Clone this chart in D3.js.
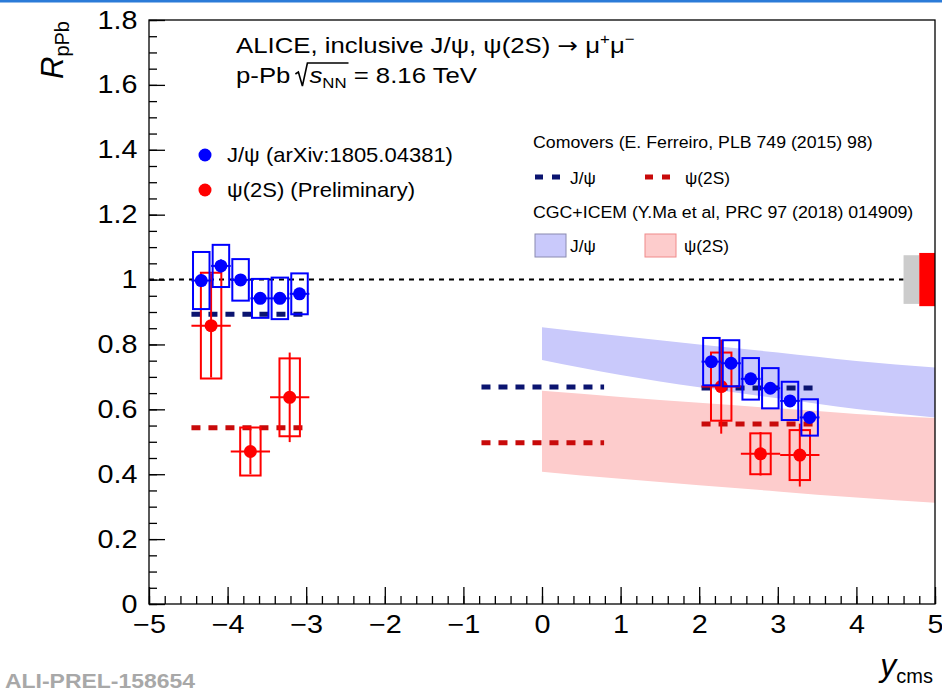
<!DOCTYPE html>
<html>
<head>
<meta charset="utf-8">
<script src="https://cdn.jsdelivr.net/npm/d3@7"></script>
<style>
body { margin: 0; background: #fff; }
text { font-family: "Liberation Sans", Arial, sans-serif; }
</style>
</head>
<body>
<div id="chart"></div>
<script>
// J/psi (arXiv:1805.04381), backward then forward rapidity bins
var jpsiY    = [-4.335, -4.085, -3.835, -3.585, -3.335, -3.085, 2.155, 2.405, 2.655, 2.905, 3.155, 3.405];
var jpsiR    = [0.997, 1.042, 0.999, 0.942, 0.942, 0.956, 0.747, 0.742, 0.694, 0.665, 0.626, 0.575];
var jpsiStat = [0.02, 0.02, 0.015, 0.015, 0.015, 0.015, 0.012, 0.01, 0.01, 0.01, 0.01, 0.01];
var jpsiSys  = [0.088, 0.065, 0.064, 0.06, 0.064, 0.063, 0.073, 0.071, 0.064, 0.062, 0.059, 0.056];

// psi(2S) preliminary
var psiY    = [-4.21, -3.71, -3.21, 2.28, 2.78, 3.28];
var psiR    = [0.858, 0.470, 0.637, 0.670, 0.463, 0.459];
var psiStat = [0.16, 0.07, 0.138, 0.145, 0.067, 0.097];
var psiSys  = [0.163, 0.074, 0.12, 0.105, 0.063, 0.077];

// comovers (Ferreiro), one value per rapidity range
var comoversRanges = [[-4.46, -2.96], [-0.77, 0.79], [2.03, 3.53]];
var comoversJpsi   = [0.893, 0.669, 0.666];
var comoversPsi    = [0.543, 0.497, 0.555];

// CGC+ICEM bands
var cgcY        = [0, 1, 2, 3, 4, 5];
var cgcJpsiHigh = [0.853, 0.826, 0.800, 0.775, 0.749, 0.729];
var cgcJpsiLow  = [0.752, 0.706, 0.668, 0.634, 0.601, 0.575];
var cgcPsiHigh  = [0.657, 0.638, 0.620, 0.603, 0.586, 0.573];
var cgcPsiLow   = [0.408, 0.386, 0.366, 0.347, 0.328, 0.312];

// global uncertainties (box at R = 1)
var globalJpsi = 0.075;
var globalPsi  = 0.082;

var xTicks = d3.range(-5, 5.001, 1);
var yTicks = d3.range(0, 1.801, 0.2);

var W = 942, H = 691;
var x = d3.scaleLinear().domain([-5, 5]).range([149, 935]);
var y = d3.scaleLinear().domain([0, 1.8]).range([604, 20]);

var svg = d3.select("#chart").append("svg")
            .attr("width", W)
            .attr("height", H);

svg.append("rect").attr("x", 0).attr("y", 0).attr("width", W).attr("height", H).attr("fill", "#fff");
svg.append("rect").attr("x", 0).attr("y", 0).attr("width", W).attr("height", 2.5).attr("fill", "#2b7bd8");

// text placed at (px,py), stretched horizontally like the original
function label(px, py, size, sx) {
	return svg.append("text")
	          .attr("transform", "translate(" + px + "," + py + ") scale(" + sx + ",1)")
	          .attr("font-size", size)
	          .attr("fill", "#000");
}

// bands
function band(lo, hi, fill) {
	var pts = cgcY.map(function(d, i) { return {x : d, lo : lo[i], hi : hi[i]}; });
	svg.append("path")
	   .datum(pts)
	   .attr("d", d3.area()
	                .x(function(d) { return x(d.x); })
	                .y0(function(d) { return y(d.lo); })
	                .y1(function(d) { return y(d.hi); })
	                .curve(d3.curveMonotoneX))
	   .attr("fill", fill);
}
band(cgcJpsiLow, cgcJpsiHigh, "#c9c9fb");
band(cgcPsiLow, cgcPsiHigh, "#fdcccc");

// line at 1 and global boxes
svg.append("line")
   .attr("x1", x(-5)).attr("x2", x(4.6))
   .attr("y1", y(1)).attr("y2", y(1))
   .attr("stroke", "#000").attr("stroke-width", 2)
   .attr("stroke-dasharray", "5,5");

svg.append("rect")
   .attr("x", x(4.6)).attr("width", x(4.8) - x(4.6))
   .attr("y", y(1 + globalJpsi)).attr("height", y(1 - globalJpsi) - y(1 + globalJpsi))
   .attr("fill", "#cccccc");
svg.append("rect")
   .attr("x", x(4.8)).attr("width", x(5) - x(4.8))
   .attr("y", y(1 + globalPsi)).attr("height", y(1 - globalPsi) - y(1 + globalPsi))
   .attr("fill", "#ff0000");

// comovers
function comovers(vals, color) {
	svg.selectAll(null)
	   .data(comoversRanges)
	   .enter()
	   .append("line")
	   .attr("x1", function(d) { return x(d[0]); })
	   .attr("x2", function(d) { return x(d[1]); })
	   .attr("y1", function(d, i) { return y(vals[i]); })
	   .attr("y2", function(d, i) { return y(vals[i]); })
	   .attr("stroke", color)
	   .attr("stroke-width", 5)
	   .attr("stroke-dasharray", "9,8");
}
comovers(comoversJpsi, "#0b1470");
comovers(comoversPsi, "#c80a0a");

// data
function series(ys, rs, stat, sys, binHalf, boxHalf, color) {
	var g = svg.append("g");
	ys.forEach(function(yc, i) {
		g.append("rect")
		 .attr("x", x(yc - boxHalf))
		 .attr("width", x(yc + boxHalf) - x(yc - boxHalf))
		 .attr("y", y(rs[i] + sys[i]))
		 .attr("height", y(rs[i] - sys[i]) - y(rs[i] + sys[i]))
		 .attr("fill", "none")
		 .attr("stroke", color)
		 .attr("stroke-width", 2);
		g.append("line")
		 .attr("x1", x(yc)).attr("x2", x(yc))
		 .attr("y1", y(rs[i] - stat[i])).attr("y2", y(rs[i] + stat[i]))
		 .attr("stroke", color).attr("stroke-width", 2);
		g.append("line")
		 .attr("x1", x(yc - binHalf)).attr("x2", x(yc + binHalf))
		 .attr("y1", y(rs[i])).attr("y2", y(rs[i]))
		 .attr("stroke", color).attr("stroke-width", 2);
		g.append("circle")
		 .attr("cx", x(yc)).attr("cy", y(rs[i]))
		 .attr("r", 6.5)
		 .attr("fill", color);
	});
}
series(psiY, psiR, psiStat, psiSys, 0.25, 0.13, "#ff0000");
series(jpsiY, jpsiR, jpsiStat, jpsiSys, 0.125, 0.105, "#0000ff");

// frame and axes
svg.append("rect")
   .attr("x", x(-5)).attr("y", y(1.8))
   .attr("width", x(5) - x(-5)).attr("height", y(0) - y(1.8))
   .attr("fill", "none").attr("stroke", "#000").attr("stroke-width", 1.3);

function cleanAxis(g) {
	g.select(".domain").remove();
	g.selectAll("line").attr("stroke", "#000").attr("stroke-width", 1.3);
	g.selectAll("text").attr("font-size", 25).attr("fill", "#000")
	 .attr("font-family", "Liberation Sans, Arial, sans-serif")
	 .attr("transform", "scale(1.15,1)");
}

svg.append("g")
   .attr("transform", "translate(0," + y(0) + ")")
   .call(d3.axisBottom(x).tickValues(d3.range(-5, 5.001, 0.2)).tickSize(-8).tickFormat(""))
   .call(cleanAxis);
svg.append("g")
   .attr("transform", "translate(0," + y(0) + ")")
   .call(d3.axisBottom(x).tickValues(xTicks).tickSize(-17).tickPadding(11).tickFormat(d3.format("d")))
   .call(cleanAxis);

svg.append("g")
   .attr("transform", "translate(" + x(-5) + ",0)")
   .call(d3.axisLeft(y).tickValues(d3.range(0, 1.801, 0.05)).tickSize(-8).tickFormat(""))
   .call(cleanAxis);
svg.append("g")
   .attr("transform", "translate(" + x(-5) + ",0)")
   .call(d3.axisLeft(y).tickValues(yTicks).tickSize(-16).tickPadding(10)
           .tickFormat(function(d) { return +d.toFixed(1); }))
   .call(cleanAxis);

// axis titles
var yt = svg.append("text")
            .attr("transform", "translate(63,79) rotate(-90)")
            .attr("fill", "#000");
yt.append("tspan").attr("font-size", 31).attr("font-style", "italic").text("R");
yt.append("tspan").attr("font-size", 20).attr("dy", 6).text("pPb");

var xt = svg.append("text")
            .attr("x", 933).attr("y", 676)
            .attr("text-anchor", "end")
            .attr("fill", "#000");
xt.append("tspan").attr("font-size", 32).attr("font-style", "italic").text("y");
xt.append("tspan").attr("font-size", 20).attr("dy", 7).text("cms");

// title
var st = 1.12;
var t1 = label(236, 53, 23, st);
t1.append("tspan").text("ALICE, inclusive J/\u03c8, \u03c8(2S) ");
t1.append("tspan").attr("font-family", "DejaVu Sans").attr("font-size", 22).text("\u2192");
t1.append("tspan").text(" \u03bc");
t1.append("tspan").attr("font-size", 15).attr("dy", -9).text("+");
t1.append("tspan").attr("dy", 9).text("\u03bc");
t1.append("tspan").attr("font-size", 15).attr("dy", -9).text("\u2212");

var t2a = label(236, 83, 23, st).text("p-Pb");
var wA = t2a.node().getComputedTextLength() * st;
var rx = 236 + wA + 5;
var t2x = rx + 14;
var t2 = label(t2x, 83, 23, st);
t2.append("tspan").attr("font-style", "italic").text("s");
t2.append("tspan").attr("font-size", 15).attr("dy", 5).text("NN");
t2.append("tspan").attr("dy", -5).text(" = 8.16 TeV");
var barEnd = t2x + t2.node().getEndPositionOfChar(2).x * st;
svg.append("path")
   .attr("d", "M" + rx + "," + 74 + " L" + (rx + 3) + "," + 72 + " L" + (rx + 7) + "," + 86 +
              " L" + (rx + 12) + "," + 63 + " L" + (barEnd + 2) + "," + 63)
   .attr("fill", "none").attr("stroke", "#000").attr("stroke-width", 1.6);

// left legend
var legL = [{label : "J/\u03c8 (arXiv:1805.04381)", color : "#0000ff"},
            {label : "\u03c8(2S) (Preliminary)", color : "#ff0000"}];
legL.forEach(function(d, i) {
	svg.append("circle").attr("cx", 205).attr("cy", 155 + 35 * i).attr("r", 6.5).attr("fill", d.color);
	label(227, 162 + 35 * i, 20, 1.1).text(d.label);
});

// right legend
label(533, 148, 16.5, 1.075).text("Comovers (E. Ferreiro, PLB 749 (2015) 98)");
label(533, 218, 16.5, 1.075).text("CGC+ICEM (Y.Ma et al, PRC 97 (2018) 014909)");

[{x : 535, color : "#0b1470", label : "J/\u03c8", lx : 570},
 {x : 645, color : "#c80a0a", label : "\u03c8(2S)", lx : 685}].forEach(function(d) {
	svg.append("line").attr("x1", d.x).attr("x2", d.x + 27).attr("y1", 177).attr("y2", 177)
	   .attr("stroke", d.color).attr("stroke-width", 5).attr("stroke-dasharray", "8,9");
	label(d.lx, 184, 16, 1.08).text(d.label);
});

[{x : 535, fill : "#c9c9fb", stroke : "#8a8ab0", label : "J/\u03c8", lx : 570},
 {x : 645, fill : "#fdcccc", stroke : "#f08a8a", label : "\u03c8(2S)", lx : 684}].forEach(function(d) {
	svg.append("rect").attr("x", d.x).attr("y", 234).attr("width", 31).attr("height", 23)
	   .attr("fill", d.fill).attr("stroke", d.stroke).attr("stroke-width", 1);
	label(d.lx, 252, 16, 1.08).text(d.label);
});

// preliminary tag
svg.append("text").attr("x", 5).attr("y", 688)
   .attr("font-family", "Liberation Mono, Courier New, monospace")
   .attr("font-weight", "bold").attr("font-size", 21).attr("fill", "#a8a8a8")
   .attr("textLength", 190).attr("lengthAdjust", "spacingAndGlyphs")
   .text("ALI-PREL-158654");
</script>
</body>
</html>
